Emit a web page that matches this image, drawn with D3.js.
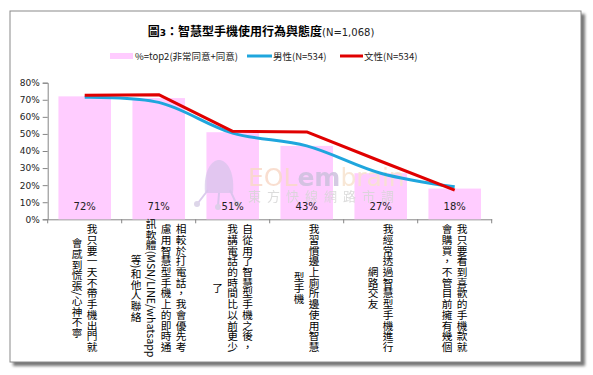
<!DOCTYPE html>
<html>
<head>
<meta charset="utf-8">
<script src="https://cdn.jsdelivr.net/npm/d3@7"></script>
<style>
  body { margin:0; background:#fff; }
  svg { display:block; }
</style>
</head>
<body>
<svg id="chart" width="593" height="375"></svg>
<script>
// datos
var categorias = [
  ["我只要一天不帶手機出門就", "會感到慌張/心神不寧"],
  ["相較於打電話，我會優先考", "慮用智慧型手機上的即時通", "訊軟體(MSN/LINE/whatsapp", "等)和他人聯絡"],
  ["自從用了智慧型手機之後，", "我講電話的時間比以前更少", "了"],
  ["我習慣邊上廁所邊使用智慧", "型手機"],
  ["我經常透過智慧型手機進行", "網路交友"],
  ["我只要看到喜歡的手機款就", "會購買，不管目前擁有幾個"]
];
var top2 = [72, 71, 51, 43, 27, 18];
var hombres = [71.5, 68.5, 50.5, 43, 27, 19];
var mujeres = [72.6, 73, 51.5, 51.2, 34, 17.1];
var yTicks = [0, 10, 20, 30, 40, 50, 60, 70, 80];
var leyenda = ["%=top2(非常同意+同意)", "男性(N=534)", "文性(N=534)"];

var CJK = "'Noto Sans CJK TC', 'Noto Sans CJK SC', sans-serif";
var LAT = "'DejaVu Sans', 'Noto Sans CJK TC', sans-serif";

var svg = d3.select("#chart");
var idx = d3.range(categorias.length);

// marco con sombra
var defs = svg.append("defs");
defs.append("filter").attr("id", "sombra").attr("x", "-5%").attr("y", "-5%").attr("width", "110%").attr("height", "110%")
  .append("feGaussianBlur").attr("stdDeviation", 1.6);
svg.append("rect").attr("x", 13).attr("y", 14).attr("width", 572).attr("height", 352)
  .attr("fill", "#777").attr("filter", "url(#sombra)");
svg.append("rect").attr("x", 10).attr("y", 11).attr("width", 571).attr("height", 351)
  .attr("fill", "#fff").attr("stroke", "#8a8a8a").attr("stroke-width", 1);

// titulo
var titulo = svg.append("text").attr("x", 261).attr("y", 36).attr("text-anchor", "middle")
  .attr("font-family", CJK).attr("fill", "#000");
titulo.append("tspan").attr("font-weight", "bold").attr("font-size", 12).text("圖");
titulo.append("tspan").attr("font-family", LAT).attr("font-size", 9).attr("font-weight", "bold").text("3");
titulo.append("tspan").attr("font-weight", "bold").attr("font-size", 12).text("：智慧型手機使用行為與態度");
titulo.append("tspan").attr("font-family", LAT).attr("font-size", 10).attr("fill", "#222").text("(N=1,068)");

// escalas
var x = d3.scaleBand().domain(idx).range([47.7, 491.7]).padding(0);
var y = d3.scaleLinear().domain([0, 80]).range([219.3, 82.7]);
var barW = x.bandwidth() * 0.71;

// ejes
var yAxis = d3.axisLeft(y).tickValues(yTicks).tickFormat(function(d){ return d + "%"; })
  .tickSize(5).tickPadding(3);
var gy = svg.append("g").attr("transform", "translate(47.7,0)").call(yAxis);
gy.select(".domain").attr("stroke", "#868686");
gy.selectAll(".tick line").attr("stroke", "#868686");
gy.selectAll(".tick text").attr("font-family", LAT).attr("font-size", 9).attr("fill", "#222");

var xAxis = d3.axisBottom(x).tickSize(0).tickFormat("");
var gx = svg.append("g").attr("transform", "translate(0," + y(0) + ")").call(xAxis);
gx.select(".domain").attr("stroke", "#868686");
gx.selectAll(".tick").remove();
gx.selectAll("line.borde").data(idx.concat([idx.length])).enter().append("line")
  .attr("class", "borde")
  .attr("x1", function(d){ return d < idx.length ? x(d) : x.range()[1]; })
  .attr("x2", function(d){ return d < idx.length ? x(d) : x.range()[1]; })
  .attr("y1", 0).attr("y2", 4).attr("stroke", "#868686");

// barras
svg.selectAll("rect.barra").data(top2).enter().append("rect")
  .attr("class", "barra")
  .attr("x", function(d, i){ return x(i) + (x.bandwidth() - barW) / 2; })
  .attr("width", barW)
  .attr("y", function(d){ return y(d); })
  .attr("height", function(d){ return y(0) - y(d); })
  .attr("fill", "#ffccff");

// marca de agua
var wm = svg.append("g").attr("opacity", 0.85);
wm.append("path")
  .attr("d", "M205,193 C203,170 212,160 219,160 C226,160 235,170 233,193 Z")
  .attr("fill", "#d5c3ea").attr("opacity", 0.8);
wm.append("path").attr("d", "M208,190 L198,203 M219,193 L218,206 M230,190 L236,203")
  .attr("stroke", "#d5c3ea").attr("stroke-width", 2).attr("fill", "none");
wm.selectAll("circle").data([[197, 204], [218, 207], [237, 204]]).enter().append("circle")
  .attr("cx", function(d){ return d[0]; }).attr("cy", function(d){ return d[1]; }).attr("r", 3)
  .attr("fill", "#d8cfe6");
var wmt = wm.append("text").attr("x", 248).attr("y", 186).attr("font-family", LAT).attr("font-size", 25);
wmt.append("tspan").attr("fill", "#f8d9c8").text("EOL");
wmt.append("tspan").attr("fill", "#cdc1dd").attr("font-weight", "bold").text("em");
wmt.append("tspan").attr("fill", "#f7e3cf").text("brain");
wm.append("text").attr("x", 248).attr("y", 201).attr("font-family", CJK).attr("font-size", 13)
  .attr("letter-spacing", 6).attr("fill", "#d6d6d6").text("東方快線網路市調");

// etiquetas de valor
svg.selectAll("text.valor").data(top2).enter().append("text")
  .attr("class", "valor")
  .attr("x", function(d, i){ return x(i) + x.bandwidth() / 2; })
  .attr("y", 210)
  .attr("text-anchor", "middle")
  .attr("font-family", LAT).attr("font-size", 10).attr("fill", "#222")
  .text(function(d){ return d + "%"; });

// lineas
var cx = function(d, i){ return x(i) + x.bandwidth() / 2; };
var lineaH = d3.line().x(cx).y(function(d){ return y(d); }).curve(d3.curveCatmullRom.alpha(0.5));
var lineaM = d3.line().x(cx).y(function(d){ return y(d); });
svg.append("path").datum(hombres).attr("d", lineaH)
  .attr("fill", "none").attr("stroke", "#1fa6dd").attr("stroke-width", 3);
svg.append("path").datum(mujeres).attr("d", lineaM)
  .attr("fill", "none").attr("stroke", "#e00000").attr("stroke-width", 3)
  .attr("stroke-linejoin", "round");

// etiquetas verticales (columnas de derecha a izquierda)
var sep = 15;
categorias.forEach(function(cols, i){
  var c = x(i) + x.bandwidth() / 2;
  var n = cols.length;
  svg.selectAll(null).data(cols).enter().append("text")
    .attr("x", function(d, j){ return c + (n - 1) / 2 * sep - j * sep; })
    .attr("y", 288)
    .attr("text-anchor", "middle")
    .style("writing-mode", "vertical-rl")
    .attr("font-family", CJK).attr("font-size", 10.7).attr("fill", "#000")
    .text(function(d){ return d; });
});

// leyenda
var ly = 56;
svg.append("rect").attr("x", 110).attr("y", ly - 3).attr("width", 23).attr("height", 6).attr("fill", "#ffccff");
svg.append("line").attr("x1", 247).attr("x2", 272).attr("y1", ly).attr("y2", ly)
  .attr("stroke", "#1fa6dd").attr("stroke-width", 3);
svg.append("line").attr("x1", 340).attr("x2", 363).attr("y1", ly).attr("y2", ly)
  .attr("stroke", "#e00000").attr("stroke-width", 3);
var lx = [135, 273, 364];
svg.selectAll("text.ley").data(leyenda).enter().append("text")
  .attr("class", "ley")
  .attr("x", function(d, i){ return lx[i]; })
  .attr("y", ly + 3.5)
  .attr("font-family", CJK).attr("font-size", 9.5).attr("fill", "#222")
  .text(function(d){ return d; });
</script>
</body>
</html>
